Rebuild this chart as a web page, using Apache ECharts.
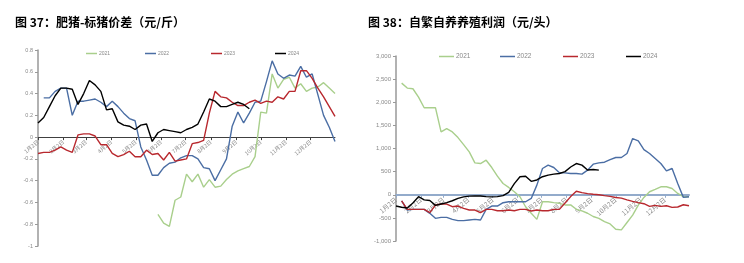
<!DOCTYPE html>
<html><head><meta charset="utf-8">
<script src="https://cdn.jsdelivr.net/npm/echarts@6/dist/echarts.min.js"></script>
<style>html,body{margin:0;padding:0;background:#fff}#c{width:744px;height:263px}</style>
</head><body><div id="c"></div>
<script>
// ---- names / colours ----
const seriesNames = ['2021', '2022', '2023', '2024'];
const seriesColors = ['#A9CF8C', '#4B6EA4', '#B8282E', '#000000'];

// ---- left chart: 肥猪-标猪价差 (元/斤), weekly values, first week index ----
const leftStartWeek = [21, 1, 0, 0];
const left2021 = [-0.71, -0.79, -0.82, -0.58, -0.55, -0.34, -0.41, -0.34, -0.46, -0.39, -0.46, -0.45, -0.39, -0.34, -0.31, -0.29, -0.27, -0.18, 0.23, 0.22, 0.58, 0.45, 0.53, 0.55, 0.45, 0.49, 0.42, 0.45, 0.46, 0.50, 0.45, 0.40];
const left2022 = [0.36, 0.36, 0.42, 0.45, 0.45, 0.20, 0.33, 0.33, 0.34, 0.35, 0.32, 0.28, 0.33, 0.28, 0.22, 0.17, 0.15, -0.09, -0.21, -0.35, -0.35, -0.28, -0.24, -0.23, -0.19, -0.17, -0.17, -0.20, -0.28, -0.29, -0.40, -0.30, -0.20, 0.10, 0.23, 0.13, 0.22, 0.32, 0.33, 0.51, 0.70, 0.58, 0.54, 0.57, 0.56, 0.65, 0.55, 0.58, 0.39, 0.20, 0.09, -0.04];
const left2023 = [-0.15, -0.14, -0.14, -0.12, -0.09, -0.12, -0.14, 0.02, 0.03, 0.03, 0.01, -0.07, -0.07, -0.15, -0.18, -0.16, -0.13, -0.18, -0.18, -0.12, -0.16, -0.15, -0.21, -0.14, -0.22, -0.21, -0.20, -0.06, -0.05, -0.03, 0.22, 0.42, 0.37, 0.36, 0.32, 0.29, 0.29, 0.32, 0.34, 0.31, 0.33, 0.32, 0.37, 0.35, 0.42, 0.42, 0.61, 0.61, 0.54, 0.45, 0.37, 0.28, 0.19];
const left2024 = [0.13, 0.18, 0.28, 0.38, 0.45, 0.45, 0.44, 0.30, 0.40, 0.52, 0.48, 0.42, 0.25, 0.26, 0.14, 0.11, 0.10, 0.07, 0.11, 0.12, -0.04, 0.04, 0.07, 0.06, 0.05, 0.04, 0.07, 0.09, 0.12, 0.23, 0.35, 0.33, 0.28, 0.28, 0.30, 0.32, 0.30, 0.26];
const leftTicks = { min: -1, max: 0.8, interval: 0.2 };

// ---- right chart: 自繁自养养殖利润 (元/头) ----
const rightStartWeek = [1, 1, 1, 0];
const right2021 = [2414, 2306, 2292, 2112, 1882, 1882, 1882, 1358, 1430, 1358, 1236, 1085, 927, 690, 675, 747, 589, 402, 244, 158, 65, -43, -259, -400, -532, -150, -150, -170, -185, -220, -220, -315, -350, -400, -470, -510, -580, -630, -745, -760, -600, -440, -223, -58, 65, 115, 172, 172, 136, 29, -43, -43];
const right2022 = [-130, -330, -316, -316, -316, -402, -510, -489, -489, -532, -560, -560, -546, -532, -546, -316, -244, -244, -172, -151, -151, -151, -151, -79, 208, 568, 639, 589, 474, 474, 460, 460, 445, 532, 661, 690, 704, 761, 805, 805, 891, 1214, 1164, 977, 891, 783, 675, 517, 568, 244, -57, -43];
const right2023 = [-130, -316, -316, -316, -316, -388, -223, -201, -201, -259, -244, -295, -330, -330, -388, -316, -316, -345, -345, -330, -345, -316, -316, -352, -330, -345, -345, -316, -316, -180, -40, 75, 45, 25, 10, 0, -20, -36, -60, -72, -110, -144, -170, -194, -251, -230, -251, -237, -273, -265, -216, -237];
const right2024 = [-244, -270, -285, -180, -40, -110, -125, -230, -200, -170, -130, -80, -45, -30, -28, -28, -40, -45, -40, -20, 50, 240, 390, 400, 290, 320, 390, 425, 445, 460, 500, 600, 675, 640, 535, 545, 532];
const rightTicks = { min: -1000, max: 3000, interval: 500 };

const titles = ['图 37：肥猪-标猪价差（元/斤）', '图 38：自繁自养养殖利润（元/头）'];

// ---- daily category axis: 1月2日 .. next 1月1日 ----
const days = [];
for (let i = 0; i < 365; i++) {
  const d = new Date(Date.UTC(2023, 0, 2 + i));
  days.push((d.getUTCMonth() + 1) + '月' + d.getUTCDate() + '日');
}
const isMonthTick = (idx, val) => /^\d+月2日$/.test(val);

function toDaily(values, startWeek) {
  const arr = new Array(days.length).fill(null);
  values.forEach((v, i) => { arr[7 * (startWeek + i)] = v; });
  return arr;
}

const leftData = [left2021, left2022, left2023, left2024];
const rightData = [right2021, right2022, right2023, right2024];
const CJK = 'Noto Sans CJK SC';

// grid layout
const grids = [
  { left: 38, top: 50, width: 297, height: 196 },
  { left: 396, top: 56, width: 293, height: 185 }
];
const ticks = [leftTicks, rightTicks];
// distance from bottom of grid to the zero line (so the category axis sits on 0)
const zeroOffset = g => -grids[g].height * (0 - ticks[g].min) / (ticks[g].max - ticks[g].min);

const series = [];
seriesNames.forEach((n, k) => {
  series.push({ name: n, type: 'line', xAxisIndex: 0, yAxisIndex: 0, data: toDaily(leftData[k], leftStartWeek[k]),
    symbol: 'none', connectNulls: true, lineStyle: { width: 1.4, color: seriesColors[k] }, itemStyle: { color: seriesColors[k] }, z: 3 + k });
  series.push({ name: n, type: 'line', xAxisIndex: 1, yAxisIndex: 1, data: toDaily(rightData[k], rightStartWeek[k]),
    symbol: 'none', connectNulls: true, lineStyle: { width: 1.4, color: seriesColors[k] }, itemStyle: { color: seriesColors[k] }, z: 3 + k });
});

const leftLegendX = [86, 145, 211, 275];
const rightLegendX = [439, 500, 563, 626];
const legends = [];
seriesNames.forEach((n, k) => {
  legends.push({ data: [n], left: leftLegendX[k], top: 51, padding: 0, icon: 'rect', itemWidth: 11, itemHeight: 1.5, itemGap: 2,
    textStyle: { fontSize: 5, color: '#888', fontFamily: 'Liberation Sans', padding: [0, 0, 0, -3] } });
  legends.push({ data: [n], left: rightLegendX[k], top: 53, padding: 0, icon: 'rect', itemWidth: 15, itemHeight: 1.5, itemGap: 2,
    textStyle: { fontSize: 6.5, color: '#888', fontFamily: 'Liberation Sans', padding: [0, 0, 0, -3] } });
});

const xAxisBase = (grid, color, width, fs) => ({
  type: 'category', gridIndex: grid, data: days, boundaryGap: false, position: 'bottom', offset: zeroOffset(grid),
  axisLine: { onZero: false, lineStyle: { color: color, width: width } },
  axisTick: { show: true, interval: isMonthTick, length: 3, lineStyle: { color: color, width: 1 } },
  axisLabel: { interval: isMonthTick, rotate: 40, fontSize: fs, color: '#8a8a8a', margin: 4, fontFamily: CJK },
  splitLine: { show: false }
});

const option = {
  animation: false,
  backgroundColor: '#fff',
  title: [
    { text: titles[0], left: 15, top: 16, padding: 0, textStyle: { fontSize: 12, fontWeight: 'bold', fontFamily: CJK, color: '#000' } },
    { text: titles[1], left: 368, top: 16, padding: 0, textStyle: { fontSize: 12, fontWeight: 'bold', fontFamily: CJK, color: '#000' } }
  ],
  legend: legends,
  grid: grids,
  xAxis: [xAxisBase(0, '#404040', 1, 5.5), xAxisBase(1, '#93ABCB', 2, 6.5)],
  yAxis: [
    { type: 'value', gridIndex: 0, min: leftTicks.min, max: leftTicks.max, interval: leftTicks.interval,
      axisLine: { show: true, lineStyle: { color: '#999', width: 1.5 } },
      axisTick: { show: true, length: 3, lineStyle: { color: '#999' } },
      axisLabel: { fontSize: 5.5, color: '#8a8a8a', margin: 5, fontFamily: 'Liberation Sans', formatter: v => String(+v.toFixed(1)) },
      splitLine: { show: false } },
    { type: 'value', gridIndex: 1, min: rightTicks.min, max: rightTicks.max, interval: rightTicks.interval,
      axisLine: { show: true, lineStyle: { color: '#999', width: 1.5 } },
      axisTick: { show: true, length: 3, lineStyle: { color: '#999' } },
      axisLabel: { fontSize: 6, color: '#8a8a8a', margin: 5, fontFamily: 'Liberation Sans', formatter: v => Math.round(v).toLocaleString('en-US') },
      splitLine: { show: false } }
  ],
  series: series
};

const chart = echarts.init(document.getElementById('c'), null, { renderer: 'canvas' });
chart.setOption(option);
</script>
</body></html>
